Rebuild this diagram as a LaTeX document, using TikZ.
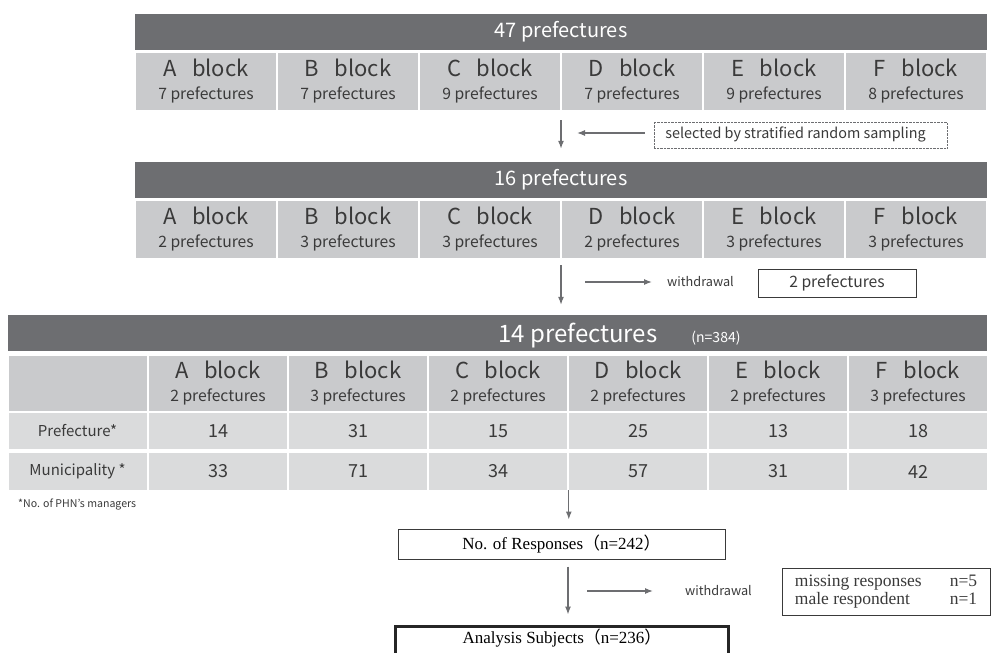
\documentclass[tikz,border=0pt]{standalone}
\usepackage{fontspec}
\setmainfont{Noto Sans CJK JP}
\newfontfamily\serifrm{Liberation Serif}
\newfontfamily\cjk{Noto Sans CJK JP}
\usetikzlibrary{arrows.meta}

\definecolor{hdgray}{HTML}{6D6E71}
\definecolor{blkgray}{HTML}{C9CACC}
\definecolor{datgray}{HTML}{DADBDC}
\definecolor{txtgray}{HTML}{3A3A3A}

\newcommand{\blkname}[1]{{\fontsize{22}{23}\selectfont #1\hspace{0.7em}block}}
\newcommand{\blkcnt}[1]{{\fontsize{15.7}{23}\selectfont #1 prefectures}}

\tikzset{
  hdr/.style={fill=hdgray, text=white, inner sep=0, minimum height=36, font=\fontsize{20}{22}\selectfont},
  blk/.style={fill=blkgray, text=txtgray, inner sep=0, minimum width=140, align=center, font=\fontsize{15.7}{23}\selectfont},
  dat/.style={fill=datgray, text=txtgray, inner sep=0, minimum width=138, font=\fontsize{18}{20}\selectfont},
  arr/.style={draw=hdgray, line width=1.2, -{Latex[length=8,width=6]}},
  plain/.style={text=txtgray, inner sep=0},
}

\begin{document}
\begin{tikzpicture}[x=1pt,y=-1pt]
\useasboundingbox (0,0) rectangle (1001,653);

% 47 prefectures
\node[hdr, minimum width=852] (h1) at (561,32) {47 prefectures};
\foreach \b/\n [count=\i from 0] in {A/7,B/7,C/9,D/7,E/9,F/8}
  \node[blk, minimum height=57] (a\b) at (206+142*\i,81.5) {\blkname{\b}\\\blkcnt{\n}};

% 16 prefectures
\node[hdr, minimum width=852] (h2) at (561,180) {16 prefectures};
\foreach \b/\n [count=\i from 0] in {A/2,B/3,C/3,D/2,E/3,F/3}
  \node[blk, minimum height=57] (b\b) at (206+142*\i,229.5) {\blkname{\b}\\\blkcnt{\n}};

% 14 prefectures
\node[hdr, minimum width=979] (h3) at (497.5,333) {};
\node[text=white, inner sep=0, anchor=base west, font=\fontsize{24}{26}\selectfont] (h3t) at (498,342)
  {14 prefectures\hspace{34pt}{\fontsize{14}{16}\selectfont (n=384)}};
\node[blk, minimum width=138, minimum height=55] (fX) at (77.5,383) {};
\foreach \b/\n [count=\i from 0] in {A/2,B/3,C/2,D/2,E/2,F/3}
  \node[blk, minimum width=138, minimum height=55] (f\b) at (218+140*\i,383) {\blkname{\b}\\\blkcnt{\n}};

\node[dat, minimum height=36, font=\fontsize{15}{17}\selectfont] (pX) at (77.5,431) {Prefecture*};
\node[dat, minimum height=37, font=\fontsize{15}{17}\selectfont] (mX) at (77.5,471.5) {Municipality *};
\foreach \b/\p/\m [count=\i from 0] in {A/14/33,B/31/71,C/15/34,D/25/57,E/13/31,F/18/42}{
  \node[dat, minimum height=36] (p\b) at (218+140*\i,431) {\p};
  \node[dat, minimum height=37] (m\b) at (218+140*\i,471.5) {\m};
}
\node[plain, anchor=west, font=\fontsize{10.6}{12}\selectfont] (note) at (18,505) {*No. of PHN’s managers};

% side notes
\node[draw=hdgray, densely dotted, minimum width=293, minimum height=26, inner sep=0] (sel) at (800.5,135) {};
\node[plain, font=\fontsize{14.4}{16}\selectfont] (selt) at (795.5,134) {selected by stratified random sampling};
\coordinate (c1) at (577,133);
\draw[arr, shorten <=9] (sel.west |- c1) -- (c1);

\node[plain, anchor=west, font=\fontsize{12.7}{16}\selectfont] (wd1) at (667,282) {withdrawal};
\node[draw=txtgray, line width=0.8, minimum width=158, minimum height=28, inner sep=0, text=txtgray, font=\fontsize{15.7}{17}\selectfont] (out1) at (837,283) {2 prefectures};
\coordinate (c2) at (585,282);
\draw[arr, shorten >=15] (c2) -- (wd1.west |- c2);

% flow
\draw[arr, shorten <=10, shorten >=13] (h1.center |- aC.south) -- (h2.north);
\draw[arr, shorten <=7, shorten >=10] (h2.center |- bC.south) -- (h3.north -| h2.center);

\node[draw=txtgray, line width=1, minimum width=327, minimum height=30, inner sep=0, font=\serifrm\fontsize{17}{18}\selectfont] (resp) at (561.5,544)
  {No. of Responses{\cjk（}n=242{\cjk）}};
\node[draw=black!85, line width=3, minimum width=333, text height=11, text depth=17, inner ysep=6, anchor=north, font=\serifrm\fontsize{17}{18}\selectfont] (ana) at (562,624.5)
  {Analysis Subjects{\cjk（}n=236{\cjk）}};
\coordinate (c3) at (568,591);
\draw[arr, shorten >=9] (fD.south west |- mD.south) -- (fD.south west |- resp.north);
\draw[arr, shorten <=7, shorten >=10] (resp.south -| c3) -- (ana.north -| c3);
\node[plain, anchor=west, font=\fontsize{12.7}{16}\selectfont] (wd2) at (685,591) {withdrawal};
\draw[arr, shorten <=19, shorten >=32] (c3) -- (wd2.west |- c3);
\node[draw=txtgray, line width=0.8, minimum width=208, minimum height=47, inner sep=0, text=txtgray, font=\serifrm\fontsize{17.5}{18}\selectfont] (miss) at (886,591.5)
  {\begin{tabular}{@{}l@{\hspace{28pt}}l@{}}missing responses & n=5\\ male respondent & n=1\end{tabular}};
\end{tikzpicture}
\end{document}
